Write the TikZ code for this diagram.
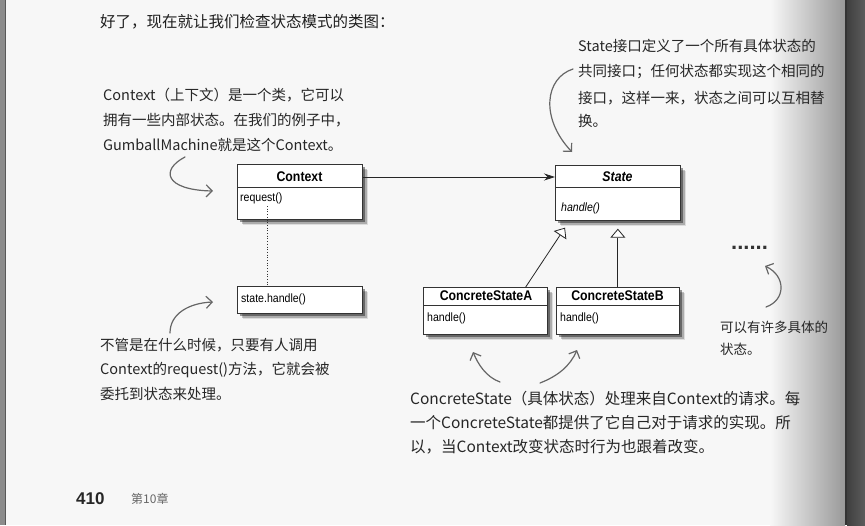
\documentclass[tikz,border=0pt]{standalone}
\usepackage{fontspec}
\setmainfont{Liberation Sans}
\newfontfamily\cjk{Noto Sans CJK SC}
\usetikzlibrary{arrows.meta,shadows}

% condensed class text
\newcommand{\narrowtext}[1]{\scalebox{0.88}[1]{#1}}

\begin{document}
\begin{tikzpicture}[x=1pt,y=-1pt,
  classbox/.style={draw=black!80, line width=0.7pt, fill=white, inner sep=0pt,
    anchor=north west,
    drop shadow={shadow xshift=6pt, shadow yshift=-6pt, fill=black, opacity=0.10},
    drop shadow={shadow xshift=4.5pt, shadow yshift=-4.5pt, fill=black, opacity=0.22},
    drop shadow={shadow xshift=3pt, shadow yshift=-3pt, fill=black, opacity=0.4}},
  classname/.style={font=\bfseries\fontsize{14}{16}\selectfont, inner sep=0pt},
  method/.style={font=\fontsize{12}{14}\selectfont, inner sep=0pt, anchor=west},
  rule/.style={draw=black!80, line width=0.7pt},
  assoc/.style={draw=black!85, line width=0.8pt, -{Stealth[length=11pt,width=7pt]}},
  gen/.style={draw=black!85, line width=0.8pt, -{Triangle[open,length=9pt,width=15pt,fill=white]}},
  calldots/.style={draw=black!80, line width=0.7pt, dotted},
  note/.style={font=\cjk\fontsize{14.5}{16}\selectfont, text=black!85, inner sep=0pt, anchor=west},
  bignote/.style={note, font=\cjk\fontsize{15.5}{17}\selectfont},
  smallnote/.style={note, font=\cjk\fontsize{13.5}{15}\selectfont},
  handarrow/.style={draw=black!60, line width=1.2pt, line cap=round,
    -{Straight Barb[length=6pt,width=12pt,line width=1.2pt]}}
]
% page
\useasboundingbox (0,0) rectangle (865,525);
\fill[black!3] (0,0) rectangle (865,525);
\fill[black!45] (0,0) rectangle (5,525);
\draw[black!65, line width=0.8pt] (5,0) -- (5,525);
\shade[left color=black!3, right color=black!40] (770,0) rectangle (845,525);
\fill[black!80] (845,0) rectangle (847,525);
\shade[left color=black!75, right color=black!64] (847,0) rectangle (865,525);

% heading
\node[font=\cjk\fontsize{15.5}{17}\selectfont, text=black!88, inner sep=0pt, anchor=west]
  (heading) at (100,22) {好了，现在就让我们检查状态模式的类图：};

% Context class
\node[classbox, minimum width=125pt, minimum height=55pt] (ctx) at (237,164) {};
\draw[rule] ([yshift=-23pt]ctx.north west) -- ([yshift=-23pt]ctx.north east);
\node[classname] (ctxname) at (299.5,177) {\narrowtext{Context}};
\node[method] (ctxop) at (240,198) {\narrowtext{request()}};

% State interface
\node[classbox, minimum width=125pt, minimum height=55pt] (state) at (555,165) {};
\draw[rule] ([yshift=-22pt]state.north west) -- ([yshift=-22pt]state.north east);
\node[classname, font=\bfseries\itshape\fontsize{14}{16}\selectfont] (statename) at (617.5,177) {\narrowtext{State}};
\node[method, font=\itshape\fontsize{12}{14}\selectfont] (stateop) at (561,208) {\narrowtext{handle()}};

% delegation box
\node[classbox, minimum width=125pt, minimum height=27pt] (sh) at (237,286) {};
\node[method] (shop) at (241,299.5) {\narrowtext{state.handle()}};

% concrete states
\node[classbox, minimum width=124pt, minimum height=47pt] (csa) at (423,287) {};
\draw[rule] ([yshift=-18pt]csa.north west) -- ([yshift=-18pt]csa.north east);
\node[classname] (csaname) at (486,296) {\narrowtext{ConcreteStateA}};
\node[method] (csaop) at (427,318) {\narrowtext{handle()}};

\node[classbox, minimum width=123pt, minimum height=47pt] (csb) at (556,287) {};
\draw[rule] ([yshift=-18pt]csb.north west) -- ([yshift=-18pt]csb.north east);
\node[classname] (csbname) at (617.5,296) {\narrowtext{ConcreteStateB}};
\node[method] (csbop) at (560,318) {\narrowtext{handle()}};

% relations
\draw[assoc] (ctxname -| ctx.east) -- (ctxname -| state.west);
\draw[gen] ([xshift=-22pt]csa.north east) -- ([xshift=10pt,yshift=-7pt]state.south west);
\draw[gen] (csb.north) -- ([yshift=-8pt]state.south);
\coordinate (callpt) at (267,206);
\draw[calldots] (callpt) -- (callpt |- sh.north);

% annotation: Context
\node[note] (n1a) at (103,95) {Context（上下文）是一个类，它可以};
\node[note] (n1b) at (103,120) {拥有一些内部状态。在我们的例子中，};
\node[note] (n1c) at (103,145) {GumballMachine就是这个Context。};
\coordinate (a1s) at (185,157);
\coordinate (a1e) at (213,191);
\draw[handarrow] (a1s) .. controls (160,170) and (165,190) .. (a1e);

% annotation: State
\node[note] (n2a) at (578,46) {State接口定义了一个所有具体状态的};
\node[note] (n2b) at (578,72) {共同接口；任何状态都实现这个相同的};
\node[note] (n2c) at (578,98) {接口，这样一来，状态之间可以互相替};
\node[note] (n2d) at (578,121) {换。};
\coordinate (a2s) at (573,69);
\coordinate (a2e) at (572,152);
\draw[handarrow] (a2s) .. controls (545,78) and (540,118) .. (a2e);

% annotation: request delegation
\node[note] (n3a) at (100,345) {不管是在什么时候，只要有人调用};
\node[note] (n3b) at (100,370) {Context的request()方法，它就会被};
\node[note] (n3c) at (100,394) {委托到状态来处理。};
\coordinate (a3s) at (170,333);
\coordinate (a3e) at (213,302);
\draw[handarrow] (a3s) .. controls (170,313) and (190,303) .. (a3e);

% annotation: concrete states
\node[bignote] (n4a) at (410,399) {ConcreteState（具体状态）处理来自Context的请求。每};
\node[bignote] (n4b) at (410,423) {一个ConcreteState都提供了它自己对于请求的实现。所};
\node[bignote] (n4c) at (410,447) {以，当Context改变状态时行为也跟着改变。};
\coordinate (a4s) at (500,382);
\coordinate (a4e) at (473,352);
\draw[handarrow] (a4s) .. controls (486,377) and (478,364) .. (a4e);
\coordinate (a5s) at (540,383);
\coordinate (a5e) at (577,350);
\draw[handarrow] (a5s) .. controls (558,376) and (570,366) .. (a5e);

% annotation: more states
\node[font=\bfseries\fontsize{22}{22}\selectfont, text=black!80, inner sep=0pt, anchor=west] (more) at (731,248) {......};
\node[smallnote] (n5a) at (720,327) {可以有许多具体的};
\node[smallnote] (n5b) at (720,349) {状态。};
\coordinate (a6s) at (766,307);
\coordinate (a6e) at (765,266);
\draw[handarrow] (a6s) .. controls (786,300) and (786,276) .. (a6e);

% footer
\node[font=\bfseries\fontsize{17}{17}\selectfont, text=black!85, inner sep=0pt, anchor=west] (pageno) at (76,499) {410};
\node[font=\cjk\fontsize{12}{12}\selectfont, text=black!60, inner sep=0pt, anchor=west] (chapter) at (131,499) {第10章};
\end{tikzpicture}
\end{document}
